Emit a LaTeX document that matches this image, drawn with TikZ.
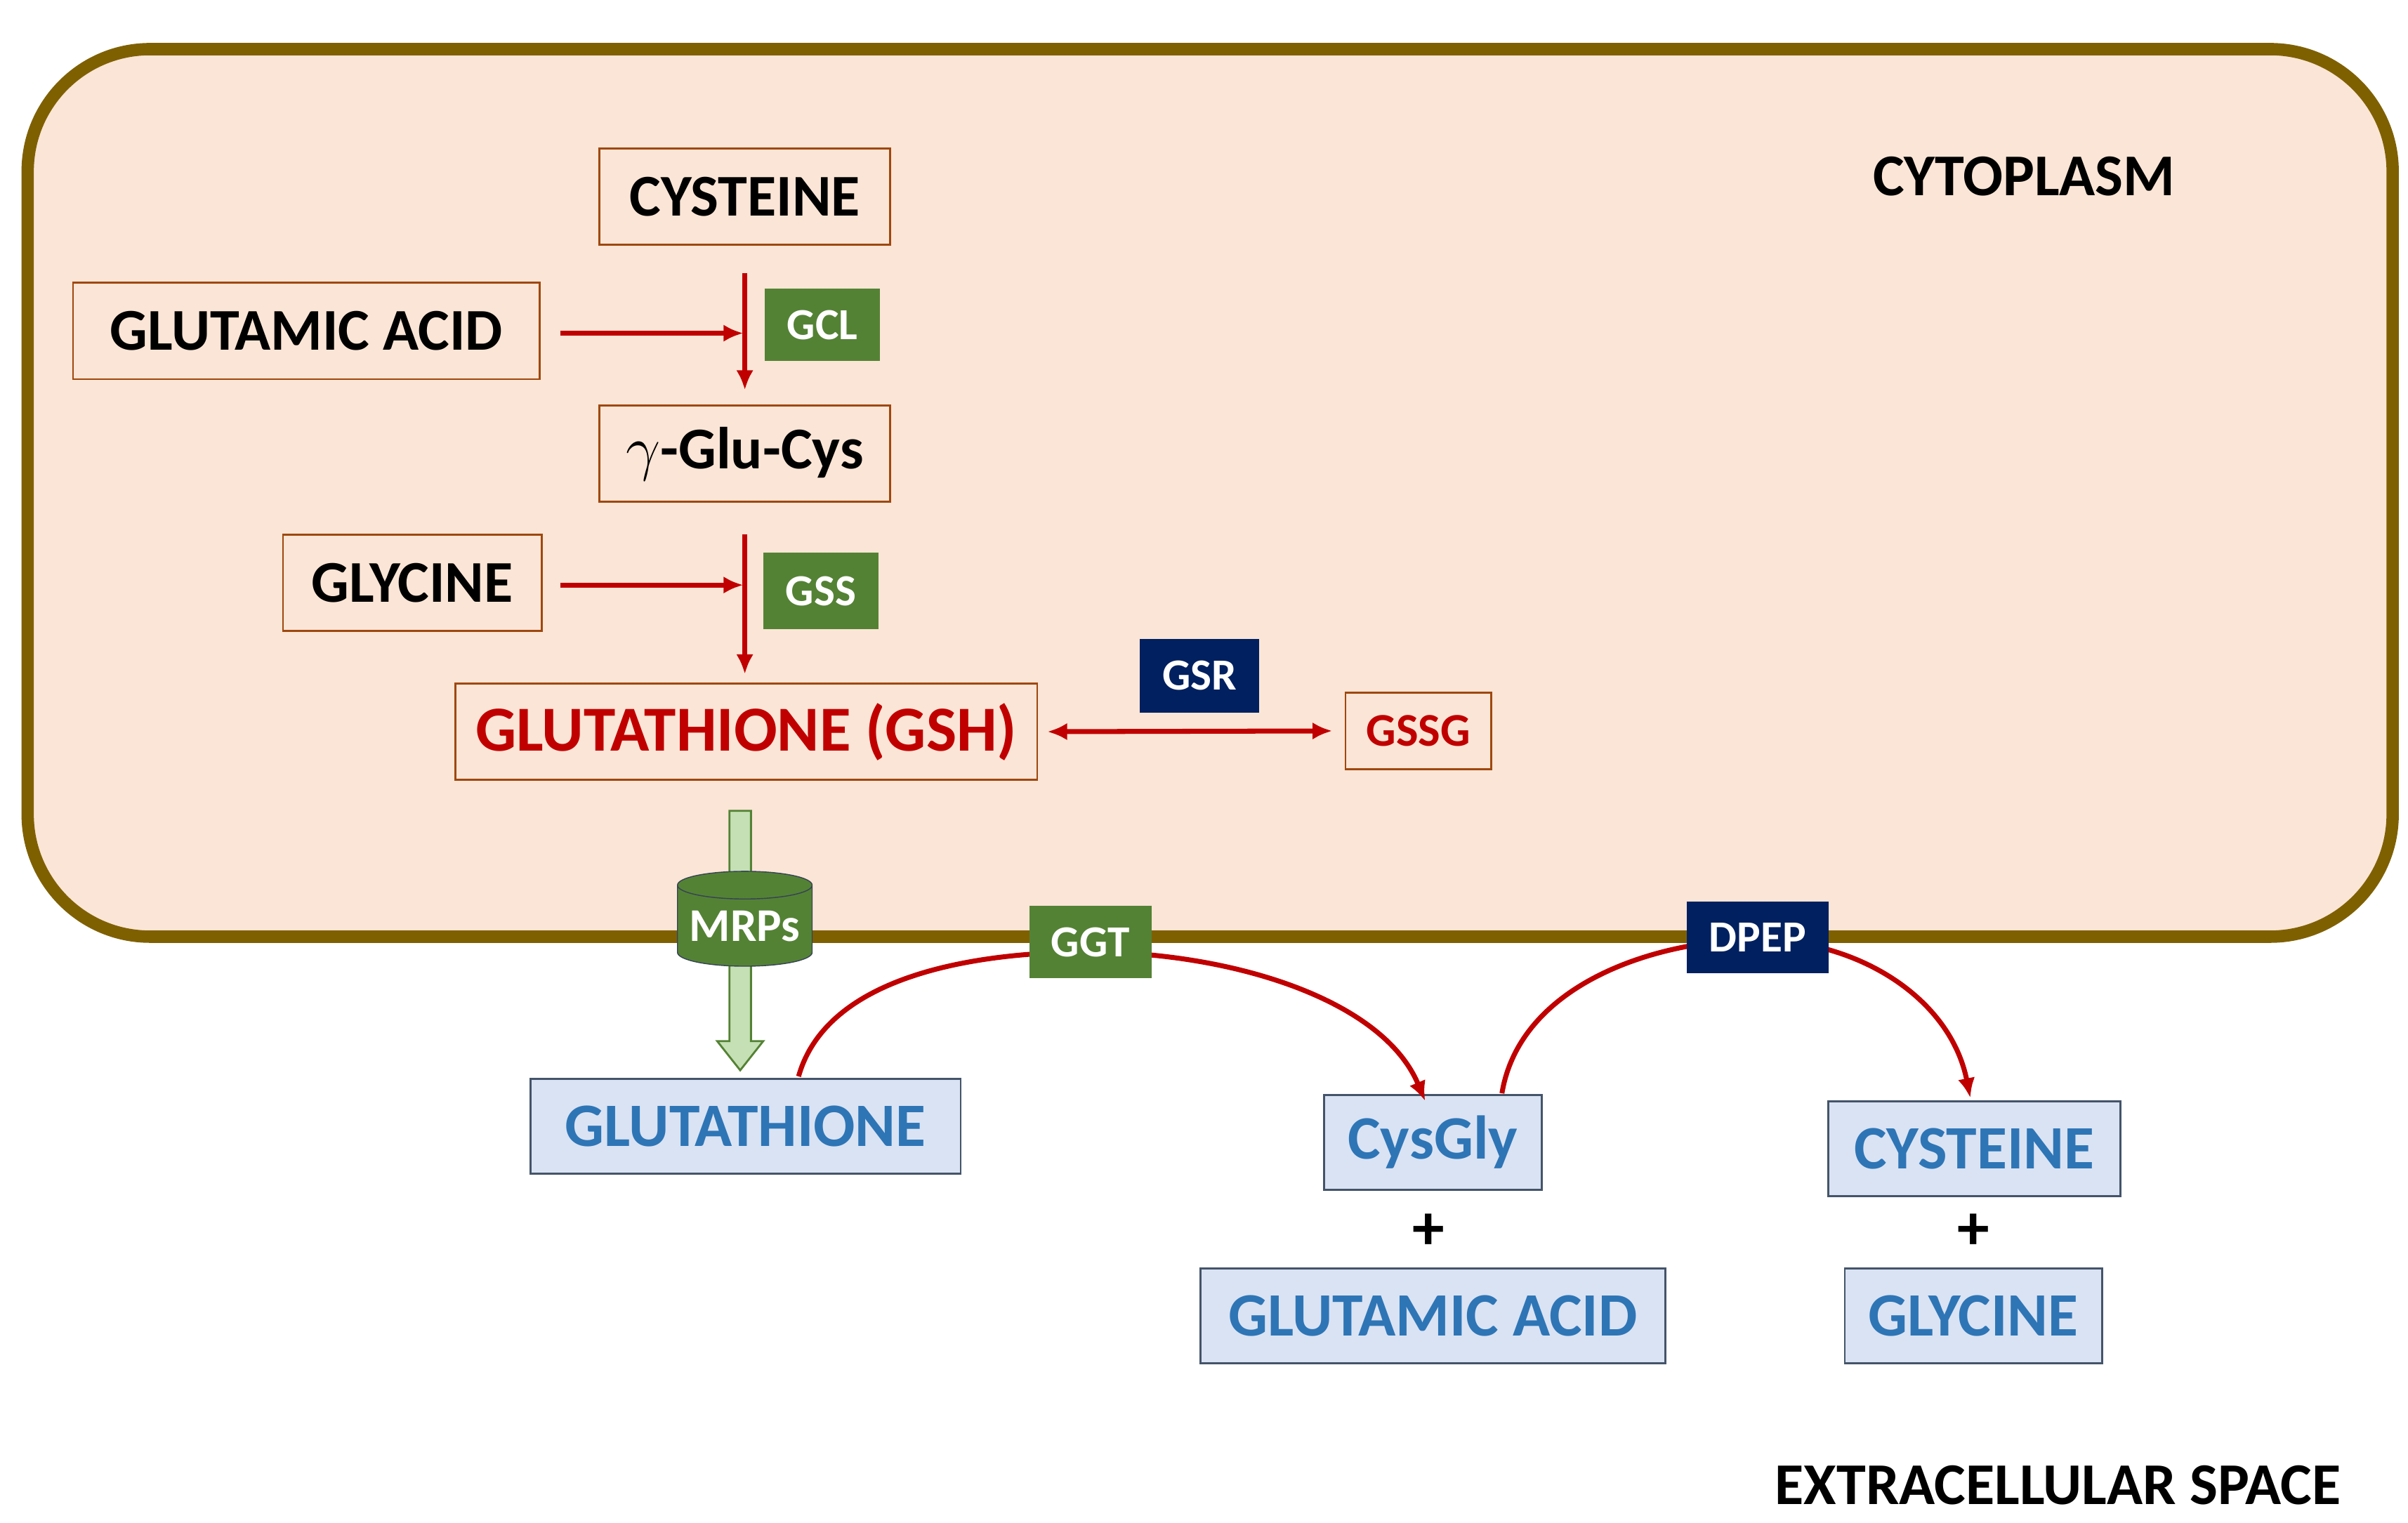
\documentclass[tikz,border=0pt]{standalone}
\usepackage{fontspec}
\setmainfont{Carlito}
\usetikzlibrary{shapes.geometric,arrows.meta}
\definecolor{cellfill}{HTML}{FBE5D6}
\definecolor{cellline}{HTML}{7F6000}
\definecolor{boxline}{HTML}{C55A11}
\definecolor{dred}{HTML}{C00000}
\definecolor{egreen}{HTML}{548235}
\definecolor{enavy}{HTML}{002060}
\definecolor{bfill}{HTML}{DAE3F3}
\definecolor{bline}{HTML}{44546A}
\definecolor{btext}{HTML}{2E75B6}
\definecolor{lgreen}{HTML}{C5E0B4}
\begin{document}
\begin{tikzpicture}[x=0.02187cm,y=-0.02187cm,
 mol/.style={draw=boxline!80!black,line width=0.8pt,inner sep=0,minimum width=#1,font=\fontsize{24}{24}\selectfont\bfseries},
 ext/.style={draw=bline,fill=bfill,line width=0.8pt,inner sep=0,minimum width=#1,minimum height=62*0.62pt,text=btext,font=\fontsize{25}{25}\selectfont\bfseries},
 grn/.style={fill=egreen,text=white,inner sep=0,minimum width=#1,font=\fontsize{18}{18}\selectfont\bfseries},
 nav/.style={fill=enavy,text=white,inner sep=0,minimum width=#1,font=\fontsize{18}{18}\selectfont\bfseries},
 rarr/.style={draw=dred,line width=2pt,-{Latex[length=8pt,width=7pt]}}]
\useasboundingbox (0,0) rectangle (1568,991.8);
\draw[cellline,fill=cellfill,line width=5pt,rounded corners=80*0.62pt] (18,32) rectangle (1558,610);
\node[font=\fontsize{24}{24}\selectfont\bfseries] (cyto) at (1318,115) {CYTOPLASM};
\node[mol=190*0.62pt,minimum height=63*0.62pt] (cys) at (485,128) {CYSTEINE};
\node[mol=305*0.62pt,minimum height=63*0.62pt] (glu) at (199.5,215.5) {GLUTAMIC ACID};
\node[grn=75*0.62pt,minimum height=47*0.62pt] (gcl) at (535.5,211.5) {GCL};
\node[mol=190*0.62pt,minimum height=63*0.62pt] (gc) at (485,295.5) {$\gamma$-Glu-Cys};
\node[mol=169*0.62pt,minimum height=63*0.62pt] (gly) at (268.5,379.5) {GLYCINE};
\node[grn=75*0.62pt,minimum height=50*0.62pt] (gss) at (534.5,385) {GSS};
\node[mol=380*0.62pt,minimum height=63*0.62pt,text=dred,font=\fontsize{26}{26}\selectfont\bfseries] (gsh) at (486,476.5) {GLUTATHIONE (GSH)};
\node[nav=78*0.62pt,minimum height=48*0.62pt] (gsr) at (781,440) {GSR};
\node[mol=95*0.62pt,minimum height=50*0.62pt,text=dred,font=\fontsize{19}{19}\selectfont\bfseries] (gssg) at (923.5,476) {GSSG};
\coordinate (a1) at (485,178); \coordinate (a2) at (485,254);
\coordinate (b1) at (365,217); \coordinate (b2) at (484,217);
\coordinate (c1) at (485,348); \coordinate (c2) at (485,439);
\coordinate (d1) at (365,381); \coordinate (d2) at (484,381);
\draw[rarr] (a1) -- (a2);
\draw[rarr] (b1) -- (b2);
\draw[rarr] (c1) -- (c2);
\draw[rarr] (d1) -- (d2);
\draw[draw=dred,line width=2pt,{Latex[length=8pt,width=7pt]}-{Latex[length=8pt,width=7pt]}] (gsh.east)++(6,0) -- ([xshift=-8*0.62pt]gssg.west);
% MRP transport arrow
\draw[egreen,fill=lgreen,line width=0.8pt] (475,528) -- (489,528) -- (489,678) -- (497,678) -- (482,697) -- (467,678) -- (475,678) -- cycle;
\node[cylinder,shape border rotate=90,aspect=0.25,draw=bline!80!black,fill=egreen,text=white,minimum width=88*0.62pt,minimum height=62*0.62pt,inner sep=0,font=\fontsize{19}{19}\selectfont\bfseries] (mrp) at (485,603) {MRPs};
% extracellular
\node[ext=281*0.62pt] (egsh) at (485.5,733.5) {GLUTATHIONE};
\node[ext=142*0.62pt] (ecg) at (933,744) {CysGly};
\node[ext=304*0.62pt] (eglu) at (933,857) {GLUTAMIC ACID};
\node[ext=191*0.62pt] (ecys) at (1285.5,748) {CYSTEINE};
\node[ext=168*0.62pt] (egly) at (1285,857) {GLYCINE};
\node[font=\fontsize{26}{26}\selectfont\bfseries] (p1) at (930,802) {+};
\node[font=\fontsize{26}{26}\selectfont\bfseries] (p2) at (1285,802) {+};
\draw[rarr] (520,701) .. controls (540,630) and (650,620) .. (709,620) .. controls (800,620) and (900,650) .. (928,717);
\draw[rarr] (978,712) .. controls (990,640) and (1080,612) .. (1144,612) .. controls (1210,612) and (1270,650) .. (1283,715);
\node[grn=80*0.62pt,minimum height=47*0.62pt] (ggt) at (710,613.5) {GGT};
\node[nav=93*0.62pt,minimum height=47*0.62pt] (dpep) at (1144.5,610.5) {DPEP};
\node[font=\fontsize{24}{24}\selectfont\bfseries] (extra) at (1340,967) {EXTRACELLULAR SPACE};
\end{tikzpicture}
\end{document}
